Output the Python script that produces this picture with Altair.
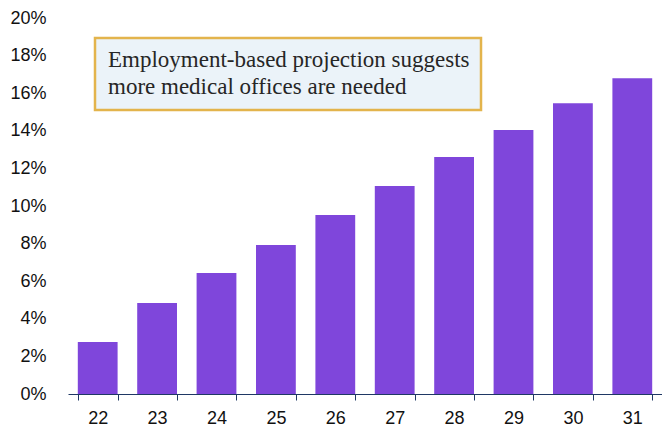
import altair as alt
import pandas as pd

years = ["22", "23", "24", "25", "26", "27", "28", "29", "30", "31"]
values = [0.0277, 0.0484, 0.0644, 0.0793, 0.0952, 0.1106, 0.126, 0.1404, 0.1546, 0.168]
note_lines = ["Employment-based projection suggests", "more medical offices are needed"]

df = pd.DataFrame({"year": years, "value": values})
one = pd.DataFrame({"k": [0]})

LABEL_FONT = "Liberation Sans Narrow, Arial Narrow, Liberation Sans"

bars = alt.Chart(df).mark_bar(color="#7F46DB").encode(
    x=alt.X("year:N", sort=years, title=None,
            scale=alt.Scale(paddingInner=0.33, paddingOuter=0.165),
            axis=alt.Axis(labelAngle=0, tickBand="extent", domainColor="#1F3864",
                          tickColor="#1F3864", tickSize=6, labelPadding=9,
                          labelFontSize=18, labelFont=LABEL_FONT, labelColor="#111")),
    y=alt.Y("value:Q", title=None,
            scale=alt.Scale(domain=[0, 0.2], nice=False),
            axis=alt.Axis(format=".0%", values=[i * 0.02 for i in range(11)], grid=False,
                          domain=False, ticks=False, labelPadding=22,
                          labelFontSize=18, labelFont=LABEL_FONT, labelColor="#111")),
)

box = alt.Chart(one).mark_rect(fill="#EBF3F9", stroke="#E3B44C", strokeWidth=2.5).encode(
    x=alt.value(27), x2=alt.value(413), y=alt.value(20), y2=alt.value(92)
)

note = alt.Chart(one).mark_text(
    align="left", baseline="alphabetic", font="Liberation Serif", fontSize=23,
    color="#262626", lineHeight=27
).encode(
    x=alt.value(40), y=alt.value(49), text=alt.value(note_lines)
)

chart = alt.layer(bars, box, note).properties(
    width=594, height=376,
    autosize=alt.AutoSizeParams(type="none"),
    padding={"left": 60, "top": 10, "right": 0, "bottom": 34},
).configure_view(stroke=None)

chart.save("out.html", embed_options={"renderer": "svg", "actions": False})
